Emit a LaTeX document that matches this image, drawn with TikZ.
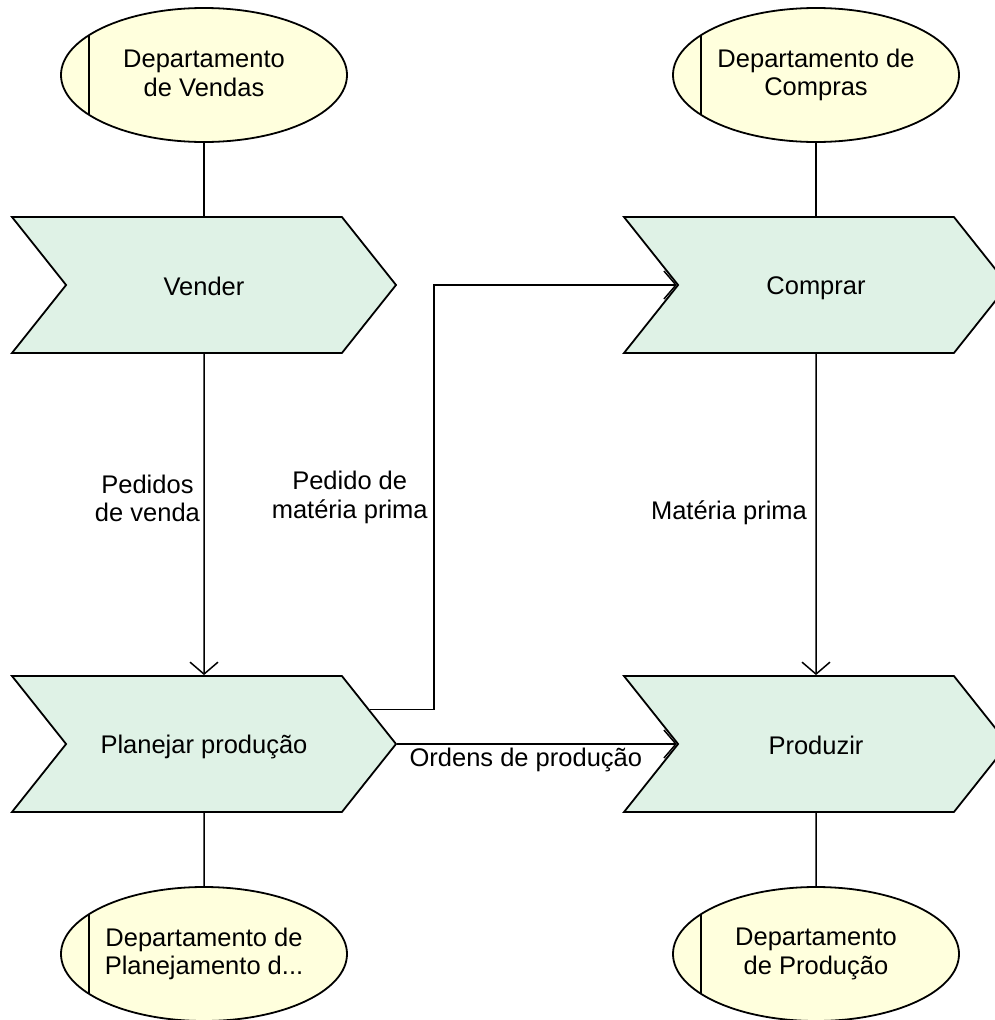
\documentclass[tikz,border=0pt]{standalone}
\usepackage{fontspec}
\setmainfont{Liberation Sans}
\usetikzlibrary{shapes.geometric, shapes.symbols, arrows.meta, positioning, calc}
\definecolor{funcgreen}{RGB}{223,242,230}
\definecolor{orgyellow}{RGB}{255,255,221}
\newcommand{\txt}{\fontsize{25.5}{28.5}\selectfont}
\newcommand{\apoio}{\rule[-3.5pt]{0pt}{28.5pt}}
\tikzstyle{funcao} = [signal, signal to=east, signal from=west, signal pointer angle=103, draw, line width=1.8pt, fill=funcgreen, minimum width=384pt, minimum height=136pt, inner sep=0pt, font=\txt, execute at begin node=\apoio]
\tikzstyle{unidade} = [ellipse, draw, line width=1.8pt, fill=orgyellow, minimum width=286pt, minimum height=134pt, inner sep=0pt, align=center, font=\txt,
  execute at begin node=\apoio, execute at end node=\apoio,
  path picture={\draw[line width=1.8pt] ([xshift=-115pt]path picture bounding box.north) -- ([xshift=-115pt]path picture bounding box.south);}]
\tikzstyle{linha} = [line width=1.5pt]
\tikzstyle{arrow} = [line width=1.5pt, -{Straight Barb[length=12pt,width=28pt,line width=1.5pt]}]

\begin{document}
\begin{tikzpicture}[x=1pt, y=-1pt]
\useasboundingbox (0,0) rectangle (995,1020);

% Departamentos
\node[unidade] (vendas) at (204,75) {Departamento\\de Vendas};
\node[unidade] (compras) at (816,75) {Departamento de\\Compras};
\node[unidade] (planejamento) at (204,954) {Departamento de\\Planejamento d...};
\node[unidade] (producao) at (816,954) {Departamento\\de Produção};

% Funcoes
\node[funcao] (vender) at (204,285) {Vender};
\node[funcao] (comprar) at (816,285) {Comprar};
\node[funcao] (planejar) at (204,744) {Planejar produção};
\node[funcao] (produzir) at (816,744) {Produzir};

% Ligacoes
\draw[linha] (vendas) -- (vender);
\draw[linha] (compras) -- (comprar);
\draw[linha] (planejar) -- (planejamento);
\draw[linha] (produzir) -- (producao);

\draw[arrow] (vender) -- node[left, align=center, pos=0.45, font=\txt] {Pedidos\\de venda} (planejar);
\draw[arrow] (comprar) -- node[left, pos=0.495, xshift=-5pt, font=\txt] {Matéria prima} (produzir);

\coordinate (pm) at ($(planejar.north east)!0.5!(planejar.east)$);
\draw[arrow] (pm) -- ++(64,0) |- node[pos=0.25, left, align=center, xshift=-2pt, font=\txt] {Pedido de\\matéria prima} (comprar.west);
\draw[arrow] (planejar.east) -- node[below, pos=0.46, inner sep=3pt, font=\txt] {Ordens de produção} (produzir.west);
\end{tikzpicture}
\end{document}
